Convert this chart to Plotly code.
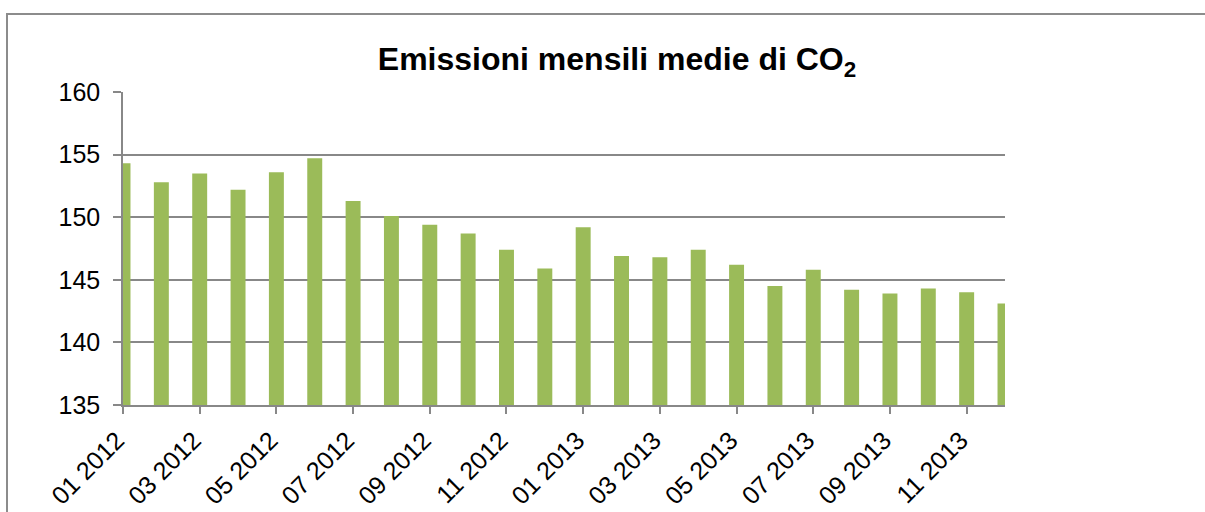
import plotly.graph_objects as go

months = ["01 2012", "02 2012", "03 2012", "04 2012", "05 2012", "06 2012",
          "07 2012", "08 2012", "09 2012", "10 2012", "11 2012", "12 2012",
          "01 2013", "02 2013", "03 2013", "04 2013", "05 2013", "06 2013",
          "07 2013", "08 2013", "09 2013", "10 2013", "11 2013", "12 2013"]
emissions = [154.3, 152.8, 153.5, 152.2, 153.6, 154.7,
             151.3, 150.1, 149.4, 148.7, 147.4, 145.9,
             149.2, 146.9, 146.8, 147.4, 146.2, 144.5,
             145.8, 144.2, 143.9, 144.3, 144.0, 143.1]
tick_labels = months[::2]
y_ticks = [135, 140, 145, 150, 155, 160]

GRID = "#888888"
FONT = "Liberation Sans, Arial, sans-serif"

fig = go.Figure(go.Bar(
    x=months, y=emissions, width=0.39,
    marker=dict(color="#9BBB59", line=dict(width=0)),
))

fig.update_layout(
    width=1205, height=512,
    margin=dict(l=123, r=200, t=92, b=107),
    paper_bgcolor="white", plot_bgcolor="white",
    showlegend=False,
    font=dict(family=FONT, size=24, color="black"),
    title=dict(text="<b>Emissioni mensili medie di CO<sub>2</sub></b>",
               x=617 / 1205, xref="container", xanchor="center",
               y=1 - 59 / 512, yref="container", yanchor="middle",
               font=dict(family=FONT, size=32, color="black")),
    xaxis=dict(type="category", range=[0, 23], automargin=False,
               tickmode="array", tickvals=tick_labels, ticktext=tick_labels,
               tickangle=-45, ticks="outside", ticklen=7, tickwidth=1.5,
               tickcolor=GRID, showline=True, linecolor=GRID, linewidth=1.5,
               showgrid=False, ticklabelstandoff=2, ticklabelshift=-6,
               tickfont=dict(family=FONT, size=25, color="black")),
    yaxis=dict(range=[135, 160], tickmode="array", tickvals=y_ticks,
               automargin=False,
               ticks="outside", ticklen=8, tickwidth=1.5, tickcolor=GRID,
               showline=True, linecolor=GRID, linewidth=1.5,
               showgrid=True, gridcolor=GRID, gridwidth=1.5,
               zeroline=False, ticklabelstandoff=8,
               tickfont=dict(family=FONT, size=25, color="black")),
    shapes=[dict(type="rect", xref="paper", yref="paper",
                 x0=(7 - 123) / 882, x1=(1230 - 123) / 882,
                 y0=(405 - 530) / 313, y1=(405 - 14) / 313,
                 line=dict(color="#8c8c8c", width=2), fillcolor="rgba(0,0,0,0)",
                 layer="below")],
)

fig.write_html("out.html", config={"displayModeBar": False},
               post_script="document.body.style.margin='0';")
